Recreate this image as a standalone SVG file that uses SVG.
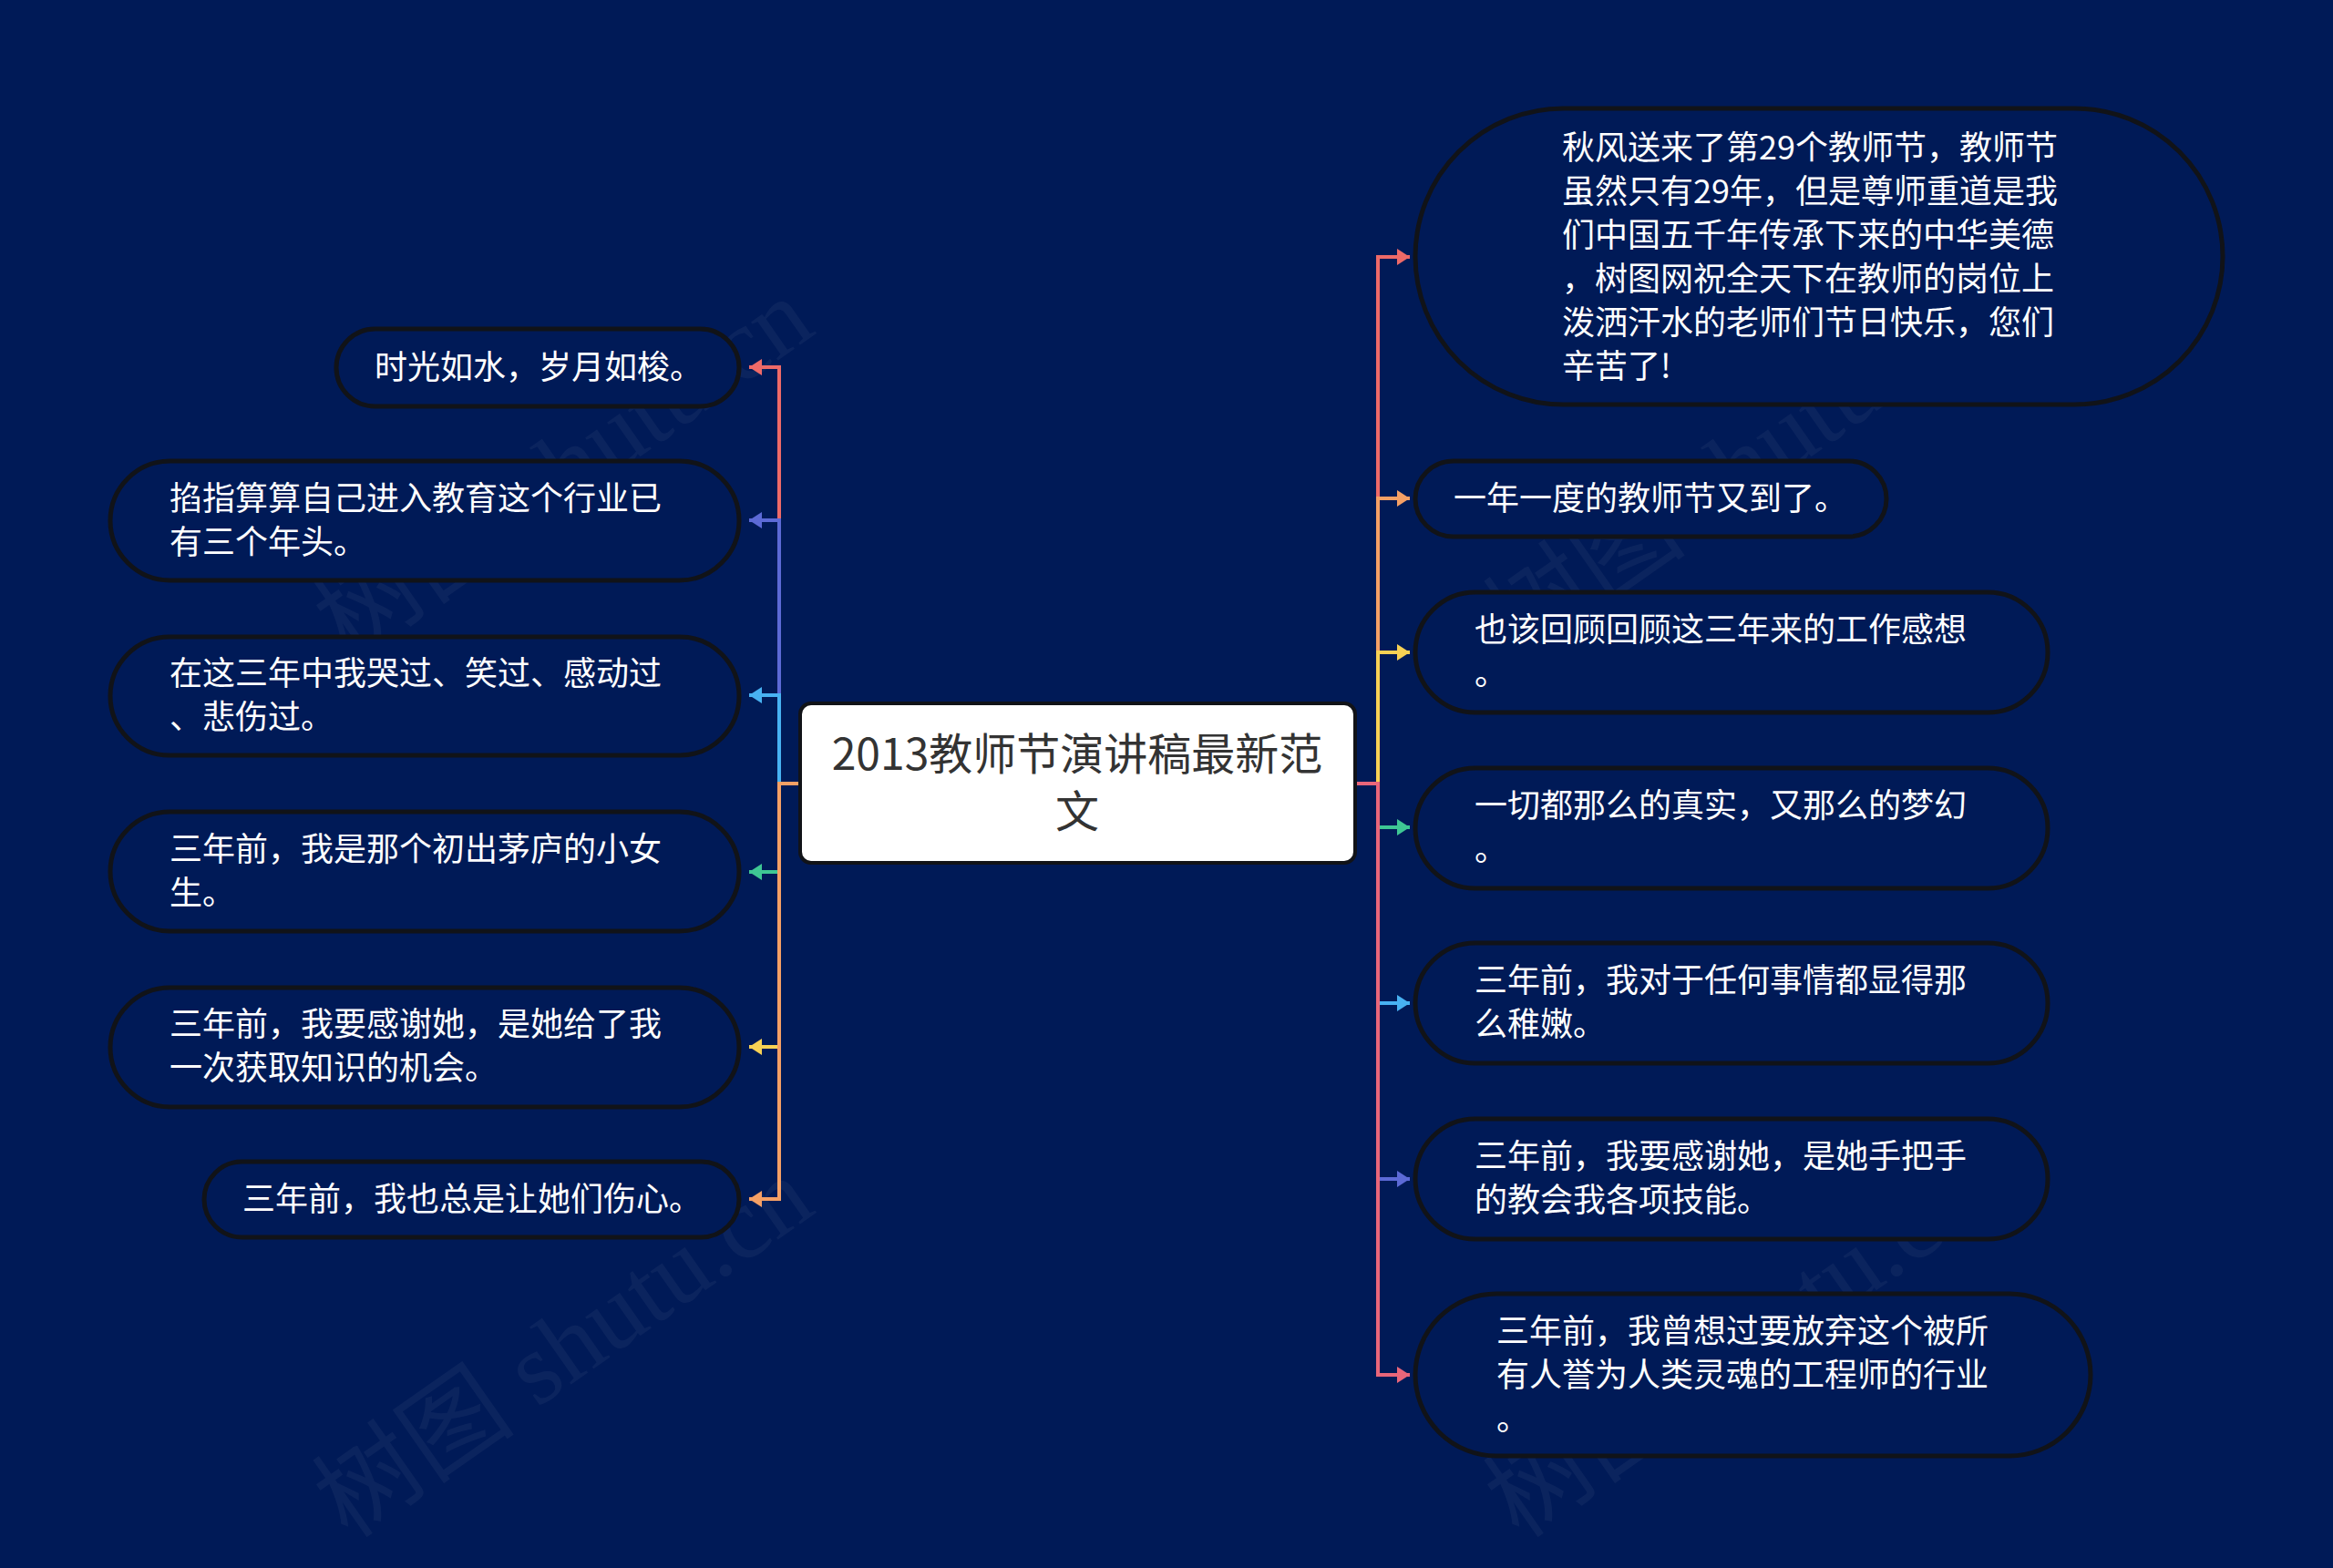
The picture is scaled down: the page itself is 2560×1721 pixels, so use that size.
<svg xmlns="http://www.w3.org/2000/svg" width="2560" height="1721" viewBox="0 0 2560 1721">
<style>
.bg{fill:#001a57}
.pill{fill:#001a57;stroke:#111318;stroke-width:5}
.t{font-family:"Noto Sans CJK SC","Noto Sans",sans-serif;font-size:36px;fill:#ffffff}
.ct{font-family:"Noto Sans CJK SC","Noto Sans",sans-serif;font-size:48px;fill:#333333;text-anchor:middle}
.c{fill:none;stroke-width:4;stroke-linejoin:miter}
.wm{font-family:"Liberation Serif","Noto Sans CJK SC",serif;font-size:112px;fill:#ffffff;opacity:0.045}
</style>
<defs>
<marker id="a-red" markerUnits="userSpaceOnUse" viewBox="0 0 14 18" refX="14" refY="9" markerWidth="14" markerHeight="18" orient="auto"><path d="M0,0 L14,9 L0,18 Z" fill="#ee6a68"/></marker>
<marker id="a-blue" markerUnits="userSpaceOnUse" viewBox="0 0 14 18" refX="14" refY="9" markerWidth="14" markerHeight="18" orient="auto"><path d="M0,0 L14,9 L0,18 Z" fill="#5c6ad6"/></marker>
<marker id="a-lblue" markerUnits="userSpaceOnUse" viewBox="0 0 14 18" refX="14" refY="9" markerWidth="14" markerHeight="18" orient="auto"><path d="M0,0 L14,9 L0,18 Z" fill="#48b2f2"/></marker>
<marker id="a-green" markerUnits="userSpaceOnUse" viewBox="0 0 14 18" refX="14" refY="9" markerWidth="14" markerHeight="18" orient="auto"><path d="M0,0 L14,9 L0,18 Z" fill="#3ec794"/></marker>
<marker id="a-yellow" markerUnits="userSpaceOnUse" viewBox="0 0 14 18" refX="14" refY="9" markerWidth="14" markerHeight="18" orient="auto"><path d="M0,0 L14,9 L0,18 Z" fill="#f7d154"/></marker>
<marker id="a-orange" markerUnits="userSpaceOnUse" viewBox="0 0 14 18" refX="14" refY="9" markerWidth="14" markerHeight="18" orient="auto"><path d="M0,0 L14,9 L0,18 Z" fill="#f5a065"/></marker>
<marker id="a-pink" markerUnits="userSpaceOnUse" viewBox="0 0 14 18" refX="14" refY="9" markerWidth="14" markerHeight="18" orient="auto"><path d="M0,0 L14,9 L0,18 Z" fill="#e9667a"/></marker>
</defs>
<rect class="bg" x="0" y="0" width="2560" height="1721"/>

<g id="watermarks">
<text class="wm" transform="translate(640,545) rotate(-35)" text-anchor="middle">树图 shutu.cn</text>
<text class="wm" transform="translate(640,1510) rotate(-35)" text-anchor="middle">树图 shutu.cn</text>
<text class="wm" transform="translate(1925,545) rotate(-35)" text-anchor="middle">树图 shutu.cn</text>
<text class="wm" transform="translate(1925,1510) rotate(-35)" text-anchor="middle">树图 shutu.cn</text>
</g>

<g id="connectors">
<path class="c" stroke="#ee6a68" d="M878,860 H855 V403 H822" marker-end="url(#a-red)"/>
<path class="c" stroke="#5c6ad6" d="M878,860 H855 V571 H822" marker-end="url(#a-blue)"/>
<path class="c" stroke="#48b2f2" d="M878,860 H855 V763 H822" marker-end="url(#a-lblue)"/>
<path class="c" stroke="#3ec794" d="M878,860 H855 V957 H822" marker-end="url(#a-green)"/>
<path class="c" stroke="#f7d154" d="M878,860 H855 V1149 H822" marker-end="url(#a-yellow)"/>
<path class="c" stroke="#f5a065" d="M878,860 H855 V1316 H822" marker-end="url(#a-orange)"/>

<path class="c" stroke="#ee6a68" d="M1487,860 H1512 V282 H1547" marker-end="url(#a-red)"/>
<path class="c" stroke="#f5a065" d="M1487,860 H1512 V547 H1547" marker-end="url(#a-orange)"/>
<path class="c" stroke="#f7d154" d="M1487,860 H1512 V716 H1547" marker-end="url(#a-yellow)"/>
<path class="c" stroke="#3ec794" d="M1487,860 H1512 V908 H1547" marker-end="url(#a-green)"/>
<path class="c" stroke="#48b2f2" d="M1487,860 H1512 V1101 H1547" marker-end="url(#a-lblue)"/>
<path class="c" stroke="#5c6ad6" d="M1487,860 H1512 V1294 H1547" marker-end="url(#a-blue)"/>
<path class="c" stroke="#e9667a" d="M1487,860 H1512 V1509 H1547" marker-end="url(#a-pink)"/>
</g>

<g id="center">
<rect x="878" y="772" width="609" height="175" rx="12" fill="#ffffff" stroke="#111318" stroke-width="4"/>
<text class="ct" x="1182" y="845">2013教师节演讲稿最新范</text>
<text class="ct" x="1182" y="908">文</text>
</g>

<g id="L1">
<rect class="pill" x="369" y="361" width="442" height="85" rx="42.5"/>
<text class="t" x="411" y="416">时光如水，岁月如梭。</text>
</g>
<g id="L2">
<rect class="pill" x="121" y="506" width="690" height="131" rx="65.5"/>
<text class="t" x="186" y="560">掐指算算自己进入教育这个行业已</text>
<text class="t" x="186" y="608">有三个年头。</text>
</g>
<g id="L3">
<rect class="pill" x="121" y="699" width="690" height="130" rx="65"/>
<text class="t" x="186" y="752">在这三年中我哭过、笑过、感动过</text>
<text class="t" x="186" y="800">、悲伤过。</text>
</g>
<g id="L4">
<rect class="pill" x="121" y="891" width="690" height="131" rx="65.5"/>
<text class="t" x="186" y="945">三年前，我是那个初出茅庐的小女</text>
<text class="t" x="186" y="993">生。</text>
</g>
<g id="L5">
<rect class="pill" x="121" y="1084" width="690" height="131" rx="65.5"/>
<text class="t" x="186" y="1137">三年前，我要感谢她，是她给了我</text>
<text class="t" x="186" y="1185">一次获取知识的机会。</text>
</g>
<g id="L6">
<rect class="pill" x="224" y="1275" width="587" height="83" rx="41.5"/>
<text class="t" x="266" y="1329">三年前，我也总是让她们伤心。</text>
</g>

<g id="R1">
<rect class="pill" x="1553" y="119" width="886" height="325" rx="162.5"/>
<text class="t" x="1714" y="175">秋风送来了第29个教师节，教师节</text>
<text class="t" x="1714" y="223">虽然只有29年，但是尊师重道是我</text>
<text class="t" x="1714" y="271">们中国五千年传承下来的中华美德</text>
<text class="t" x="1714" y="319">，树图网祝全天下在教师的岗位上</text>
<text class="t" x="1714" y="367">泼洒汗水的老师们节日快乐，您们</text>
<text class="t" x="1714" y="415">辛苦了!</text>
</g>
<g id="R2">
<rect class="pill" x="1553" y="506" width="517" height="83" rx="41.5"/>
<text class="t" x="1595" y="560">一年一度的教师节又到了。</text>
</g>
<g id="R3">
<rect class="pill" x="1553" y="650" width="694" height="132" rx="66"/>
<text class="t" x="1618" y="704">也该回顾回顾这三年来的工作感想</text>
<text class="t" x="1618" y="752">。</text>
</g>
<g id="R4">
<rect class="pill" x="1553" y="843" width="694" height="132" rx="66"/>
<text class="t" x="1618" y="897">一切都那么的真实，又那么的梦幻</text>
<text class="t" x="1618" y="945">。</text>
</g>
<g id="R5">
<rect class="pill" x="1553" y="1035" width="694" height="132" rx="66"/>
<text class="t" x="1618" y="1089">三年前，我对于任何事情都显得那</text>
<text class="t" x="1618" y="1137">么稚嫩。</text>
</g>
<g id="R6">
<rect class="pill" x="1553" y="1228" width="694" height="132" rx="66"/>
<text class="t" x="1618" y="1282">三年前，我要感谢她，是她手把手</text>
<text class="t" x="1618" y="1330">的教会我各项技能。</text>
</g>
<g id="R7">
<rect class="pill" x="1553" y="1420" width="741" height="178" rx="89"/>
<text class="t" x="1642" y="1474">三年前，我曾想过要放弃这个被所</text>
<text class="t" x="1642" y="1522">有人誉为人类灵魂的工程师的行业</text>
<text class="t" x="1642" y="1570">。</text>
</g>
</svg>
